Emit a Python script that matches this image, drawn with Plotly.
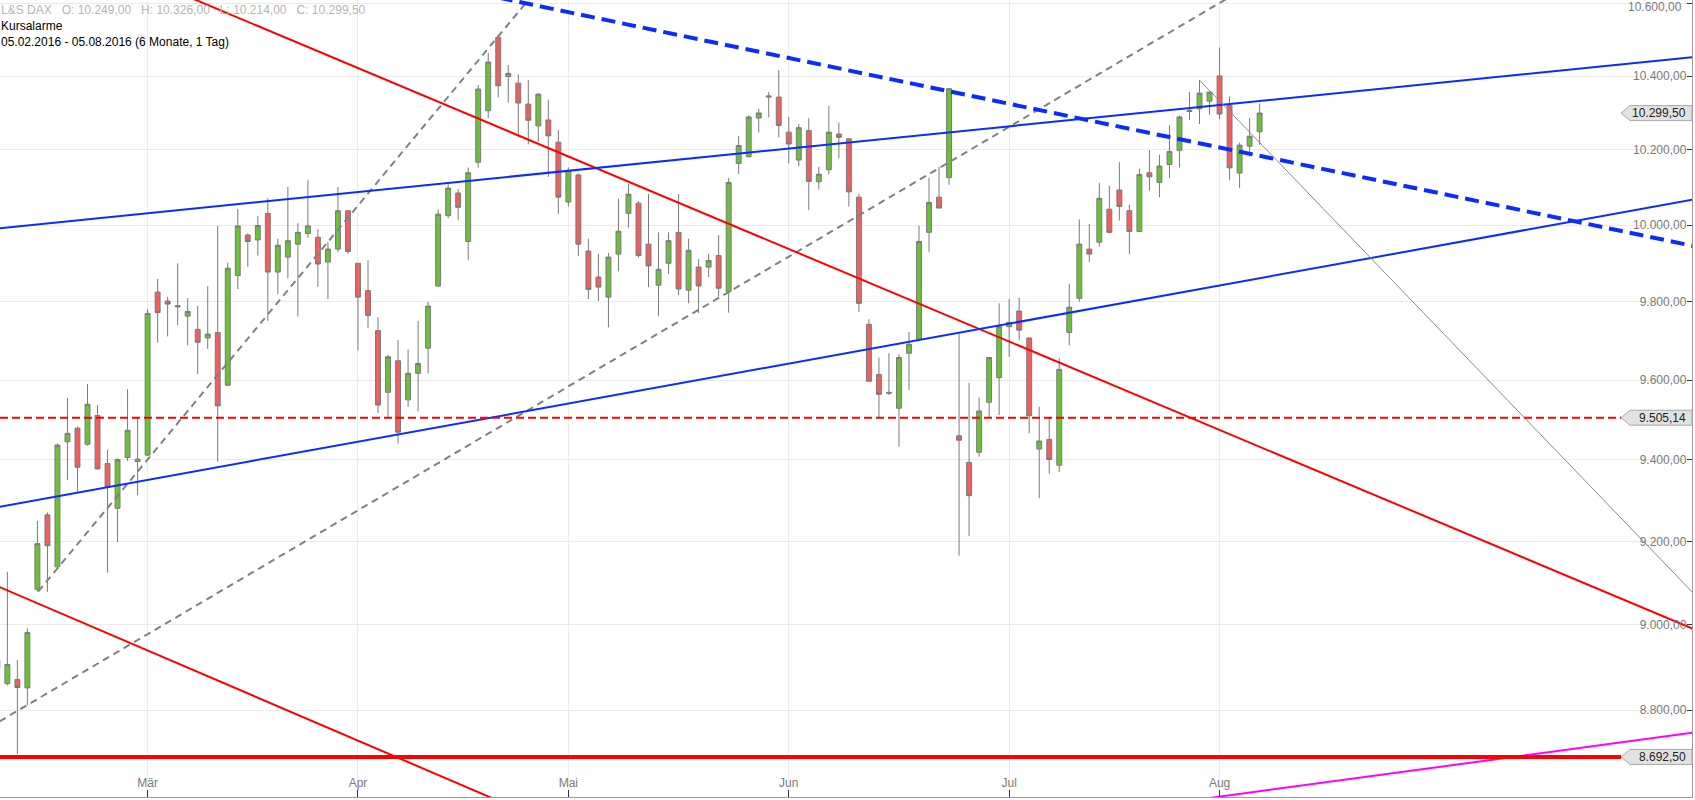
import math
import pandas as pd
import plotly.graph_objects as go

# ---------------- data ----------------
holidays = pd.to_datetime(["2016-03-25", "2016-03-28"])
all_days = pd.bdate_range("2016-02-05", "2016-08-05")
trading_days = [d for d in all_days if d not in holidays]   # index 0 = 05.02.2016

first_idx = 2  # first candle that reaches into the visible window
opens = [8898, 8862, 8872, 8852, 9085, 9265, 9139, 9445, 9479, 9439,
         9511, 9391, 9281, 9406, 9396, 9412, 9825, 9802, 9790, 9763,
         9729, 9707, 9721, 9587, 9868, 9974, 9961, 10031, 9877, 9916,
         9950, 9978, 9968, 9903, 9937, 10038, 9900, 9829, 9726, 9569,
         9649, 9550, 9617, 9681, 9841, 10025, 10085, 9957, 10167, 10306,
         10507, 10399, 10381, 10324, 10265, 10281, 10221, 10061, 10133, 9932,
         9864, 9812, 9924, 10031, 10058, 9950, 9843, 9900, 9981, 9830,
         9890, 9890, 9920, 9826, 10164, 10182, 10286, 10343, 10343, 10248,
         10173, 10252, 10115, 10147, 10243, 10230, 10074, 9742, 9614, 9569,
         9529, 9668, 9704, 9981, 10074, 10126, 9460, 9394, 9419, 9544,
         9606, 9736, 9776, 9707, 9427, 9451, 9387, 9721, 9809, 9937,
         9955, 10042, 10093, 10038, 9983, 10139, 10113, 10161, 10199, 10304,
         10311, 10332, 10401, 10320, 10138, 10210, 10249]
highs = [8925, 9127, 8917, 8992, 9250, 9271, 9441, 9555, 9483, 9590,
         9537, 9426, 9404, 9577, 9506, 9781, 9859, 9813, 9900, 9809,
         9789, 9841, 9998, 9902, 10043, 9978, 10024, 10071, 9964, 10101,
         10005, 10120, 9989, 9956, 10101, 10040, 9900, 9908, 9760, 9664,
         9702, 9677, 9751, 9800, 10042, 10109, 10096, 10153, 10376, 10464,
         10512, 10431, 10406, 10390, 10354, 10336, 10254, 10153, 10137, 9964,
         9925, 9927, 10070, 10109, 10064, 10082, 9981, 9981, 10082, 9964,
         9911, 9925, 9974, 10125, 10238, 10293, 10311, 10357, 10417, 10289,
         10270, 10286, 10155, 10319, 10274, 10230, 10083, 9755, 9657, 9668,
         9665, 9722, 9998, 10125, 10155, 10368, 9717, 9593, 9556, 9657,
         9796, 9807, 9811, 9707, 9533, 9506, 9655, 9847, 10015, 10003,
         10112, 10104, 10167, 10054, 10150, 10200, 10187, 10267, 10293, 10357,
         10390, 10357, 10479, 10345, 10220, 10286, 10326]
lows = [8880, 8858, 8699, 8812, 9079, 9079, 9135, 9350, 9322, 9435,
        9376, 9125, 9199, 9398, 9313, 9410, 9695, 9711, 9740, 9688,
        9615, 9679, 9395, 9585, 9833, 9891, 9920, 9751, 9820, 9861,
        9762, 9967, 9839, 9807, 9929, 9925, 9675, 9732, 9517, 9504,
        9441, 9533, 9521, 9617, 9838, 10018, 10014, 9909, 10153, 10286,
        10342, 10328, 10234, 10215, 10222, 10128, 10029, 10049, 9919, 9807,
        9802, 9734, 9879, 9993, 9915, 9838, 9764, 9872, 9817, 9796,
        9771, 9864, 9813, 9772, 10136, 10180, 10247, 10288, 10234, 10164,
        10156, 10040, 10094, 10135, 10178, 10049, 9774, 9597, 9504, 9562,
        9433, 9575, 9702, 9930, 10045, 10107, 9166, 9214, 9408, 9506,
        9512, 9659, 9702, 9466, 9306, 9366, 9370, 9688, 9800, 9903,
        9944, 9978, 10012, 9924, 9983, 10091, 10074, 10124, 10153, 10281,
        10270, 10295, 10283, 10119, 10098, 10182, 10214]
closes = [8917, 8907, 8853, 8982, 9195, 9190, 9437, 9466, 9382, 9539,
          9378, 9333, 9401, 9474, 9402, 9770, 9772, 9794, 9787, 9775,
          9696, 9717, 9535, 9887, 9998, 9957, 9999, 9877, 9947, 9959,
          9981, 9998, 9898, 9937, 10038, 9931, 9812, 9765, 9537, 9659,
          9469, 9617, 9642, 9789, 10029, 10098, 10047, 10139, 10365, 10439,
          10374, 10408, 10327, 10280, 10351, 10238, 10074, 10145, 9950, 9832,
          9838, 9916, 9984, 10082, 9920, 9893, 9884, 9959, 9833, 9934,
          9841, 9907, 9835, 10113, 10212, 10289, 10300, 10346, 10266, 10216,
          10260, 10116, 10135, 10248, 10234, 10088, 9796, 9597, 9564, 9567,
          9657, 9691, 9957, 10060, 10045, 10366, 9449, 9312, 9522, 9657,
          9736, 9747, 9727, 9510, 9447, 9401, 9627, 9786, 9950, 9924,
          10071, 9981, 10049, 9983, 10134, 10128, 10157, 10196, 10289, 10307,
          10354, 10357, 10297, 10152, 10213, 10237, 10299.5]

month_names = ["Mär", "Apr", "Mai", "Jun", "Jul", "Aug"]
y_ticks = [8600, 8800, 9000, 9200, 9400, 9600, 9800, 10000, 10200, 10400, 10600]
top_tick = 10600

# drawn levels / trend lines: anchor points (bar index, price)
level_support = 8692.50
level_alarm = 9505.14
last_price = 10299.50
red_upper = [(21.83, 10611), (171.16, 8992)]
red_lower = [(2.27, 9090), (52.18, 8591)]
blue_upper = [(2.27, 9992), (171.16, 10452)]
blue_lower = [(2.27, 9285), (171.16, 10067)]
blue_dashed = [(53.17, 10611), (171.16, 9946)]
gray_steep = [(6.09, 9080), (55.0, 10611)]
gray_shallow = [(2.27, 8775), (124.5, 10611)]
gray_thin = [(121.98, 10390), (171.16, 9079)]
magenta = [(122.05, 8596), (171.16, 8748)]

header = ("L&amp;S DAX\u00a0\u00a0 O: 10.249,00\u00a0\u00a0 H: 10.326,00"
          "\u00a0\u00a0 L: 10.214,00\u00a0\u00a0 C: 10.299,50")

FONT = "Liberation Sans, Arial, sans-serif"

# ---------------- helpers ----------------
def de_num(v):
    s = f"{v:,.2f}"
    return s.replace(",", "X").replace(".", ",").replace("X", ".")

def trend(anchors, i_from, i_to):
    (a, va), (b, vb) = anchors
    la, lb = math.log(va), math.log(vb)
    f = lambda i: math.exp(la + (lb - la) * (i - a) / (b - a))
    return [i_from, i_to], [f(i_from), f(i_to)]

x = list(range(first_idx, first_idx + len(closes)))
dates = [trading_days[i].strftime("%d.%m.%Y") for i in x]
month_idx = []
for k, d in enumerate(trading_days):
    if k > 0 and d.month != trading_days[k - 1].month:
        month_idx.append(k)

X_RANGE = [2.266, 171.16]
Y_RANGE = [3.93456, 4.02576]

fig = go.Figure()
fig.add_trace(go.Candlestick(
    x=x, open=opens, high=highs, low=lows, close=closes, text=dates,
    increasing=dict(fillcolor="#6abf3b", line=dict(color="#7a7a7a", width=1)),
    decreasing=dict(fillcolor="#f05f5f", line=dict(color="#7a7a7a", width=1)),
    whiskerwidth=0, hoverinfo="text+y",
))

def add_line(anchors, i_from, i_to, color, width, dash="solid"):
    xs, ys = trend(anchors, i_from, i_to)
    fig.add_trace(go.Scatter(x=xs, y=ys, mode="lines",
                             line=dict(color=color, width=width, dash=dash),
                             hoverinfo="skip"))

add_line(gray_shallow, -5, 130, "#808080", 2, "7px,5px")
add_line(gray_steep, 6.09, 58, "#808080", 2, "7px,5px")
add_line(red_upper, 15, 176, "#ff0000", 2)
add_line(red_lower, -5, 56, "#ff0000", 2)
add_line(blue_upper, -5, 176, "#0a2cff", 2)
add_line(blue_lower, -5, 176, "#0a2cff", 2)
add_line(blue_dashed, 50, 176, "#0a2cff", 4, "14px,7px")
add_line(gray_thin, 121.98, 176, "#8a8a8a", 1)
add_line(magenta, 118, 176, "#ff00ff", 2)

shapes = []
tip_frac = 1621 / 1692
shapes.append(dict(type="line", xref="paper", yref="y", x0=0, x1=tip_frac,
                   y0=level_support, y1=level_support,
                   line=dict(color="#ff0000", width=4)))
shapes.append(dict(type="line", xref="paper", yref="y", x0=0, x1=tip_frac,
                   y0=level_alarm, y1=level_alarm,
                   line=dict(color="#ff0000", width=2, dash="8px,4px")))

annotations = []
for v in (last_price, level_alarm, level_support):
    shapes.append(dict(type="path", xref="paper", yref="y",
                       xsizemode="pixel", ysizemode="pixel",
                       xanchor=1, yanchor=v,
                       path="M -71,0 L -62,7.5 L 0,7.5 L 0,-7.5 L -62,-7.5 Z",
                       fillcolor="#e2e2e2", line=dict(color="#a8a8a8", width=1),
                       layer="above"))
    annotations.append(dict(xref="paper", yref="y", x=1, y=math.log10(v),
                            xanchor="right", yanchor="middle", xshift=-4,
                            text=de_num(v), showarrow=False,
                            font=dict(family=FONT, size=12, color="#222222")))

# top tick label (plotly drops it because it would overflow the plot edge)
annotations.append(dict(xref="paper", yref="y", x=1, y=math.log10(top_tick),
                        xanchor="right", yanchor="middle", xshift=-8, yshift=-3,
                        text=de_num(top_tick), showarrow=False,
                        font=dict(family=FONT, size=12, color="#7a7a7a")))

annotations.append(dict(xref="paper", yref="paper", x=0, y=1, xanchor="left",
                        yanchor="middle", xshift=-1, yshift=-10, text=header,
                        showarrow=False, align="left",
                        font=dict(family=FONT, size=12, color="#b5b5b5")))
annotations.append(dict(xref="paper", yref="paper", x=0, y=1, xanchor="left",
                        yanchor="middle", xshift=-1, yshift=-26, text="Kursalarme",
                        showarrow=False, align="left",
                        font=dict(family=FONT, size=12, color="#000000")))
annotations.append(dict(xref="paper", yref="paper", x=0, y=1, xanchor="left",
                        yanchor="middle", xshift=-1, yshift=-42,
                        text="05.02.2016 - 05.08.2016 (6 Monate, 1 Tag)",
                        showarrow=False, align="left",
                        font=dict(family=FONT, size=12, color="#000000")))

fig.update_layout(
    width=1695, height=800,
    margin=dict(l=0, r=3, t=0, b=3, autoexpand=False),
    paper_bgcolor="white", plot_bgcolor="white",
    showlegend=False,
    shapes=shapes, annotations=annotations,
    font=dict(family=FONT),
    xaxis=dict(
        range=X_RANGE, rangeslider=dict(visible=False), automargin=False,
        tickmode="array", tickvals=month_idx, ticktext=month_names,
        ticks="inside", ticklen=7, tickcolor="#333333",
        ticklabelposition="inside",
        tickfont=dict(family=FONT, size=12, color="#7a7a7a"),
        showgrid=True, gridcolor="#ebebeb", gridwidth=1,
        showline=True, linecolor="#9a9a9a", linewidth=1,
        zeroline=False, fixedrange=True,
    ),
    yaxis=dict(
        type="log", range=Y_RANGE, side="right", automargin=False,
        tickmode="array", tickvals=y_ticks, ticktext=[de_num(v) for v in y_ticks],
        ticks="inside", ticklen=5, tickcolor="#333333",
        ticklabelposition="inside",
        tickfont=dict(family=FONT, size=12, color="#7a7a7a"),
        showgrid=True, gridcolor="#ebebeb", gridwidth=1,
        showline=True, linecolor="#9a9a9a", linewidth=1,
        zeroline=False, fixedrange=True,
    ),
)

fig.write_html(
    "out.html",
    config={"displayModeBar": False},
    post_script="document.body.style.margin='0';document.body.style.overflow='hidden';",
)
